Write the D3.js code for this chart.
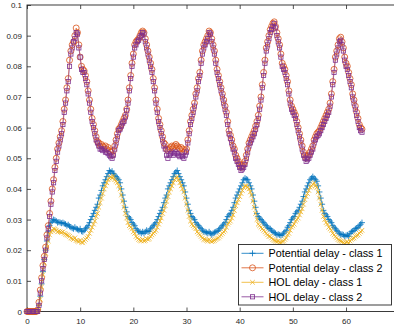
<!DOCTYPE html>
<html>
<head>
<meta charset="utf-8">
<script src="https://cdn.jsdelivr.net/npm/d3@7"></script>
<style>
  body { margin: 0; background: #fff; }
  svg { display: block; font-family: "Liberation Sans", Arial, sans-serif; }
</style>
</head>
<body>
<div id="chart"></div>
<script>
// sample time grid (0 .. 63, step 0.25)
const timeSteps = d3.range(0, 63.001, 0.25);

// Potential delay - class 1
const potClass1 = [
  0,0,0,0, 0,0,0,0, .0005,.002,.005,.009, .013,.017,.020,.023,
  .026,.028,.029,.0295, .030,.0298,.0295,.029, .0292,.029,.0288,.029, .0287,.0285,.028,.0283,
  .0278,.0275,.0272,.027, .0275,.027,.0268,.0265, .027,.0262,.026,.0265, .027,.0275,.028,.029,
  .030,.031,.032,.033, .034,.035,.037,.038, .0395,.041,.042,.043, .044,.045,.046,.0455,
  .0458,.045,.0445,.044, .0435,.043,.042,.040, .038,.036,.034,.0325, .031,.0305,.030,.029,
  .0285,.028,.027,.0265, .026,.026,.0255,.026, .0255,.026,.0265,.026, .0262,.027,.0275,.028,
  .0285,.029,.030,.031, .032,.033,.034,.0355, .037,.038,.040,.041, .042,.043,.044,.045,
  .0455,.046,.045,.044, .043,.042,.041,.039, .037,.035,.033,.032, .031,.0305,.030,.029,
  .0285,.028,.0275,.027, .0265,.026,.026,.0258, .0255,.026,.0255,.025, .0255,.0258,.026,.0262,
  .0265,.027,.0275,.028, .0285,.029,.030,.031, .0315,.032,.033,.034, .0355,.037,.038,.039,
  .040,.041,.042,.043, .0435,.0432,.043,.042, .041,.040,.038,.036, .034,.032,.031,.0305,
  .030,.0295,.029,.0285, .028,.0275,.027,.027, .0265,.026,.0258,.0255, .025,.0252,.025,.0248,
  .025,.0255,.026,.0265, .0275,.028,.029,.030, .0305,.031,.032,.0325, .033,.034,.035,.036,
  .0375,.039,.040,.041, .042,.043,.0435,.044, .0435,.043,.0425,.041, .039,.037,.035,.033,
  .032,.0315,.031,.030, .0295,.029,.028,.0275, .027,.0265,.026,.0255, .025,.0252,.025,.0245,
  .0248,.025,.0245,.0255, .026,.0262,.0265,.027, .0272,.0275,.028,.0285, .029
];

// Potential delay - class 2
const potClass2 = [
  0,0,0,0, 0,0,0,0, .0005,.003,.007,.011, .015,.018,.021,.025,
  .028,.032,.036,.040, .043,.047,.050,.053, .055,.057,.059,.062, .066,.069,.073,.076,
  .082,.085,.087,.088, .090,.0925,.091,.087, .083,.080,.079,.0785, .077,.075,.072,.069,
  .066,.063,.061,.059, .057,.0555,.055,.054, .0545,.054,.0535,.054, .053,.0535,.0525,.052,
  .051,.0525,.054,.056, .058,.0595,.060,.061, .062,.063,.064,.066, .069,.073,.077,.081,
  .084,.087,.088,.0885, .089,.090,.091,.0915, .091,.089,.087,.085, .083,.081,.079,.076,
  .073,.069,.066,.063, .061,.059,.057,.055, .0545,.053,.0525,.053, .0535,.054,.0535,.054,
  .0545,.054,.0535,.053, .0535,.053,.052,.0525, .053,.056,.059,.062, .064,.066,.068,.071,
  .073,.076,.078,.082, .085,.087,.088,.089, .090,.0915,.091,.089, .087,.085,.082,.079,
  .077,.075,.073,.071, .069,.067,.065,.062, .059,.0575,.056,.054, .053,.051,.050,.049,
  .048,.047,.0475,.048, .049,.051,.053,.055, .056,.057,.058,.059, .0605,.062,.064,.067,
  .070,.074,.078,.082, .086,.088,.090,.092, .093,.094,.0945,.093, .091,.089,.087,.084,
  .081,.080,.079,.077, .075,.072,.069,.067, .066,.065,.064,.062, .060,.058,.056,.054,
  .052,.051,.050,.0505, .051,.052,.053,.054, .056,.057,.058,.0585, .059,.060,.061,.062,
  .063,.064,.065,.066, .068,.071,.075,.079, .083,.085,.087,.089, .0895,.088,.086,.083,
  .081,.080,.078,.076, .074,.071,.069,.067, .065,.063,.061,.060, .0595
];

// HOL delay - class 1
const holClass1 = [
  0,0,0,0, 0,0,0,0, 0,.0015,.004,.008, .012,.016,.019,.021,
  .023,.025,.026,.0265, .027,.0268,.0265,.026, .0262,.026,.0258,.026, .0255,.0252,.025,.0248,
  .0245,.024,.0238,.0235, .024,.0232,.023,.0228, .0232,.0226,.0225,.023, .0235,.024,.0245,.0255,
  .0265,.0275,.0285,.0295, .031,.032,.034,.0355, .037,.0385,.040,.041, .042,.043,.0435,.044,
  .0435,.0442,.043,.0425, .042,.041,.040,.038, .036,.034,.032,.0305, .029,.028,.0275,.027,
  .026,.0255,.0245,.024, .0235,.0232,.023,.0235, .023,.0232,.0238,.0235, .0238,.0245,.025,.0255,
  .026,.0265,.0275,.0285, .0295,.0305,.032,.033, .0345,.036,.0375,.039, .040,.041,.042,.043,
  .0435,.044,.043,.042, .041,.040,.039,.037, .035,.033,.031,.0295, .0285,.028,.0275,.027,
  .026,.0255,.025,.0245, .024,.0235,.0235,.0232, .023,.0235,.023,.0228, .023,.0232,.0235,.0238,
  .024,.0245,.025,.0255, .026,.0265,.0275,.0285, .029,.0295,.0305,.0315, .033,.0345,.0355,.0365,
  .0375,.0385,.0395,.0405, .041,.041,.0405,.040, .039,.038,.036,.034, .032,.030,.0285,.028,
  .0275,.027,.0265,.026, .0255,.025,.0245,.0245, .024,.0235,.0232,.023, .0228,.023,.0226,.0225,
  .0228,.023,.0235,.024, .025,.0255,.0265,.0275, .028,.0285,.0295,.030, .0305,.0315,.0325,.0335,
  .035,.0365,.0375,.0385, .0395,.0405,.041,.0415, .042,.041,.0405,.039, .037,.035,.033,.031,
  .030,.029,.0285,.0275, .027,.0265,.0255,.025, .0245,.024,.0235,.0232, .023,.0228,.0225,.0222,
  .0225,.0228,.0222,.023, .0235,.0238,.024,.0245, .0248,.025,.0255,.026, .0265
];

// HOL delay - class 2
const holClass2 = [
  0,0,0,0, 0,0,0,0, 0,.002,.006,.010, .014,.017,.020,.024,
  .027,.031,.035,.039, .042,.046,.049,.052, .054,.056,.058,.061, .065,.068,.072,.075,
  .080,.084,.086,.088, .089,.091,.0905,.086, .083,.079,.078,.078, .076,.074,.071,.068,
  .065,.062,.060,.058, .056,.055,.054,.053, .053,.0525,.053,.052, .052,.0515,.051,.0505,
  .050,.051,.053,.055, .057,.059,.0595,.0605, .0615,.062,.0635,.0655, .068,.072,.076,.080,
  .083,.086,.087,.088, .0885,.0895,.090,.091, .0905,.088,.086,.084, .082,.080,.078,.075,
  .072,.068,.065,.062, .060,.058,.056,.054, .053,.051,.050,.051, .0515,.052,.051,.0515,
  .052,.0515,.051,.0505, .051,.0505,.050,.051, .052,.055,.058,.061, .063,.065,.067,.070,
  .072,.075,.077,.081, .084,.086,.087,.088, .089,.091,.0905,.088, .086,.084,.081,.078,
  .076,.074,.072,.070, .068,.066,.064,.061, .058,.0565,.055,.053, .052,.050,.049,.048,
  .047,.046,.0465,.047, .048,.050,.052,.054, .055,.056,.057,.058, .0595,.061,.063,.066,
  .069,.073,.077,.081, .085,.087,.089,.091, .092,.093,.094,.0925, .090,.088,.086,.083,
  .080,.079,.078,.076, .074,.071,.068,.066, .065,.064,.063,.061, .059,.057,.055,.053,
  .051,.050,.049,.0495, .050,.051,.052,.053, .055,.056,.057,.0575, .058,.059,.060,.061,
  .062,.063,.064,.065, .067,.070,.074,.078, .082,.084,.086,.088, .0885,.087,.085,.082,
  .080,.079,.077,.075, .073,.070,.068,.066, .064,.062,.060,.059, .0585
];

const seriesNames = ["Potential delay - class 1", "Potential delay - class 2", "HOL delay - class 1", "HOL delay - class 2"];
const xTicks = [0, 10, 20, 30, 40, 50, 60];
const yTicks = [0, 0.01, 0.02, 0.03, 0.04, 0.05, 0.06, 0.07, 0.08, 0.09, 0.1];

const width = 394, height = 330;
const plotLeft = 27, plotTop = 5, plotBottom = 311.5, plotRight = 399.2;

const svg = d3.select("#chart").append("svg")
    .attr("width", width)
    .attr("height", height);

const x = d3.scaleLinear().domain([0, 70]).range([plotLeft, plotRight]);
const y = d3.scaleLinear().domain([0, 0.1]).range([plotBottom, plotTop]);

const axisColor = "#262626";

function styleAxis(g) {
    g.select(".domain").remove();
    g.selectAll(".tick line").attr("stroke", axisColor).attr("stroke-width", 0.8);
    g.selectAll(".tick text").attr("fill", axisColor).attr("font-size", 8);
}

svg.append("g")
    .attr("transform", `translate(0,${plotBottom})`)
    .call(d3.axisBottom(x).tickValues(xTicks).tickSize(-4).tickPadding(7).tickFormat(d3.format("d")))
    .call(styleAxis);

svg.append("g")
    .attr("transform", `translate(0,${plotTop})`)
    .call(d3.axisTop(x).tickValues(xTicks).tickSize(-4).tickFormat(""))
    .call(styleAxis);

svg.append("g")
    .attr("transform", `translate(${plotLeft},0)`)
    .call(d3.axisLeft(y).tickValues(yTicks).tickSize(-4).tickPadding(5).tickFormat(d3.format("~g")))
    .call(styleAxis);

// axes box
svg.append("rect")
    .attr("x", plotLeft).attr("y", plotTop)
    .attr("width", plotRight - plotLeft).attr("height", plotBottom - plotTop)
    .attr("fill", "none")
    .attr("stroke", axisColor)
    .attr("stroke-width", 0.9);

const colors = ["#0072BD", "#D95319", "#EDB120", "#7E2F8E"];
const allSeries = [potClass1, potClass2, holClass1, holClass2];
const markerKinds = ["plus", "circle", "cross", "square"];

function drawMarker(sel, kind, color) {
    if (kind === "plus") {
        sel.append("path").attr("d", "M-3,0H3M0,-3V3");
    } else if (kind === "cross") {
        sel.append("path").attr("d", "M-2.3,-2.3L2.3,2.3M-2.3,2.3L2.3,-2.3");
    } else if (kind === "circle") {
        sel.append("circle").attr("r", 3);
    } else {
        sel.append("rect").attr("x", -2.1).attr("y", -2.1).attr("width", 4.2).attr("height", 4.2);
    }
    sel.selectAll("path,circle,rect")
        .attr("fill", "none")
        .attr("stroke", color)
        .attr("stroke-width", 0.8);
}

const line = d3.line()
    .x((d, i) => x(timeSteps[i]))
    .y(d => y(d));

allSeries.forEach((vals, k) => {
    const g = svg.append("g");
    g.append("path")
        .datum(vals)
        .attr("d", line)
        .attr("fill", "none")
        .attr("stroke", colors[k])
        .attr("stroke-width", 0.6);
    g.selectAll(".m")
        .data(vals)
        .enter()
        .append("g")
        .attr("transform", (d, i) => `translate(${x(timeSteps[i])},${y(d)})`)
        .each(function () { drawMarker(d3.select(this), markerKinds[k], colors[k]); });
});

// legend
const legend = svg.append("g");
legend.append("rect")
    .attr("x", 238.5).attr("y", 244.5)
    .attr("width", 153).attr("height", 60.5)
    .attr("fill", "#fff")
    .attr("stroke", axisColor)
    .attr("stroke-width", 0.9);

seriesNames.forEach((name, k) => {
    const yy = 253.3 + k * 14.5;
    legend.append("line")
        .attr("x1", 241.5).attr("x2", 263.5)
        .attr("y1", yy).attr("y2", yy)
        .attr("stroke", colors[k])
        .attr("stroke-width", 0.8);
    const m = legend.append("g").attr("transform", `translate(252.5,${yy})`);
    drawMarker(m, markerKinds[k], colors[k]);
    legend.append("text")
        .attr("x", 268.5)
        .attr("y", yy)
        .attr("dy", "0.35em")
        .attr("font-size", 10.8)
        .attr("fill", "#000")
        .text(name);
});
</script>
</body>
</html>
